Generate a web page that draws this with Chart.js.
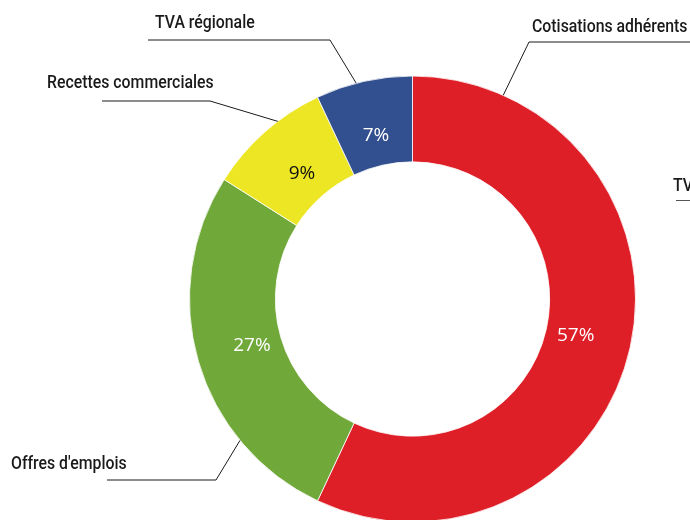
<!DOCTYPE html>
<html>
<head>
<meta charset="utf-8">
<title>Répartition des recettes</title>
<script src="https://cdn.jsdelivr.net/npm/chart.js@4.4.1/dist/chart.umd.min.js"></script>
<style>
    html, body { margin: 0; padding: 0; background: #fff; }
    #wrap { width: 690px; height: 520px; position: relative; }
</style>
</head>
<body>
<div id="wrap"><canvas id="chart"></canvas></div>
<script>
// ---- Data ----
const categories = ['Cotisations adhérents', "Offres d'emplois", 'Recettes commerciales', 'TVA régionale'];
const shares = [57, 27, 9, 7];

// ---- Styles / layout ----
const sliceColors = ['#de1f27', '#70a83a', '#ede624', '#324f8f'];
const valueColors = ['#ffffff', '#ffffff', '#111111', '#ffffff'];
// where the leader line leaves each slice (fraction of the slice's sweep)
const leaderAt = [0.117, 0.262, 0.63, 0.42];
const leaderElbow = [[529, 42], [216, 480], [210, 101], [330, 40]];
const leaderEnd = [690, 107, 102, 148];
const labelPos = [[532, 27], [11, 464], [47, 83], [155, 23]];

const labelFont = '500 18px Roboto, "DejaVu Sans Condensed", sans-serif';
const valueFont = '19px "Open Sans", "Noto Sans", sans-serif';
const condense = 0.88;

// ---- Labels + leader lines ----
const calloutPlugin = {
    id: 'callouts',
    afterDatasetsDraw(chart) {
        const ctx = chart.ctx;
        const arcs = chart.getDatasetMeta(0).data;

        arcs.forEach((arc, i) => {
            const { x, y, startAngle, endAngle, innerRadius, outerRadius } =
                arc.getProps(['x', 'y', 'startAngle', 'endAngle', 'innerRadius', 'outerRadius'], true);

            // value inside the ring
            const mid = (startAngle + endAngle) / 2;
            const r = innerRadius + (outerRadius - innerRadius) * 0.35;
            ctx.save();
            ctx.font = valueFont;
            ctx.fillStyle = valueColors[i];
            ctx.textAlign = 'center';
            ctx.textBaseline = 'middle';
            ctx.fillText(shares[i] + '%', x + r * Math.cos(mid), y + r * Math.sin(mid));
            ctx.restore();

            // leader line from the outer edge
            const a = startAngle + (endAngle - startAngle) * leaderAt[i];
            const ax = x + outerRadius * Math.cos(a);
            const ay = y + outerRadius * Math.sin(a);
            const [ex, ey] = leaderElbow[i];
            ctx.save();
            ctx.strokeStyle = '#1a1a1a';
            ctx.lineWidth = 1;
            ctx.beginPath();
            ctx.moveTo(ax, ay);
            ctx.lineTo(ex, ey);
            ctx.lineTo(leaderEnd[i], ey);
            ctx.stroke();

            // category name
            const [tx, ty] = labelPos[i];
            ctx.font = labelFont;
            ctx.fillStyle = '#1a1a1a';
            ctx.textAlign = 'left';
            ctx.textBaseline = 'middle';
            ctx.translate(tx, ty);
            ctx.scale(condense, 1);
            ctx.fillText(categories[i], 0, 0);
            ctx.restore();
        });

        // edge of the neighbouring chart, cut off by the frame
        ctx.save();
        ctx.font = labelFont;
        ctx.fillStyle = '#1a1a1a';
        ctx.textBaseline = 'middle';
        ctx.translate(673, 186);
        ctx.scale(condense, 1);
        ctx.fillText('TV', 0, 0);
        ctx.restore();
        ctx.save();
        ctx.strokeStyle = '#555';
        ctx.beginPath();
        ctx.moveTo(676, 200.5);
        ctx.lineTo(690, 200.5);
        ctx.stroke();
        ctx.restore();
    }
};

document.addEventListener('DOMContentLoaded', () => {
    new Chart(document.getElementById('chart'), {
        type: 'doughnut',
        data: {
            labels: categories,
            datasets: [{
                data: shares,
                backgroundColor: sliceColors,
                borderColor: '#ffffff',
                borderWidth: 0.8,
                hoverOffset: 0
            }]
        },
        options: {
            responsive: true,
            maintainAspectRatio: false,
            animation: false,
            radius: 223,
            cutout: '61.5%',
            layout: { padding: { left: 135, right: 0, top: 78, bottom: 0 } },
            plugins: {
                legend: { display: false },
                tooltip: { enabled: false }
            }
        },
        plugins: [calloutPlugin]
    });
});
</script>
</body>
</html>
